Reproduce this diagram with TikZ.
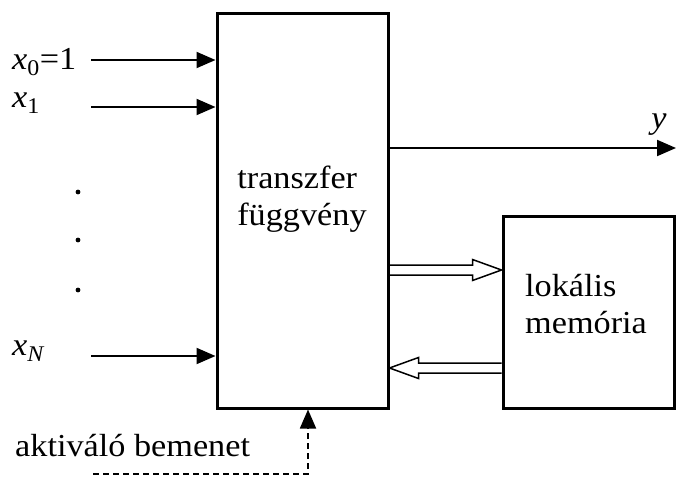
\documentclass[tikz,border=0pt]{standalone}
\usepackage{fontspec}
\setmainfont[FakeStretch=1.07]{Liberation Serif}
\usetikzlibrary{arrows.meta,calc}
% hollow (outline) arrow: #1 start, #2 tip
\newcommand{\uresnyil}[2]{%
  \coordinate (hb) at ($(#2)!29pt!(#1)$);
  \draw[ures] ($(#1)!5pt!90:(#2)$) -- ($(hb)!5pt!90:(#2)$) -- ($(hb)!10.5pt!90:(#2)$)
    -- (#2) -- ($(hb)!10.5pt!-90:(#2)$) -- ($(hb)!5pt!-90:(#2)$) -- ($(#1)!5pt!-90:(#2)$);
}
\tikzset{
  blokk/.style={draw, line width=3pt, inner sep=0pt},
  bemenet/.style={line width=2pt, -{Triangle[length=19pt,width=16pt]}},
  ures/.style={line width=1.5pt, line join=miter},
  szag/.style={line width=1.8pt, dash pattern=on 6pt off 4pt, -{Triangle[length=19pt,width=16pt]}},
  felirat/.style={font=\fontsize{32}{37}\selectfont, align=left, inner sep=0pt},
}

\begin{document}
\begin{tikzpicture}[x=1pt, y=-1pt]
\useasboundingbox (0,0) rectangle (676,477);
% blocks
\node[blokk, minimum width=171pt, minimum height=395pt] (fn) at (302.5,210.5) {};
\node[felirat] (fntext) at (302,199) {transzfer\\függvény};
\node[blokk, minimum width=171pt, minimum height=192pt] (mem) at (588.5,312) {};
\node[felirat] (memtext) at (586,304) {lokális\\memória};
% inputs
\foreach \n/\yy in {0/60, 1/107, N/356} {
  \coordinate (be\n) at (91,\yy);
  \draw[bemenet] (be\n) -- (fn.west |- be\n);
}
\node[felirat, anchor=base west] (lx0) at (12,69) {\textit{x}\textsubscript{0}=1};
\node[felirat, anchor=base west] (lx1) at (12,107) {\textit{x}\textsubscript{1}};
\node[felirat, anchor=base west] (lxN) at (12,355) {\textit{x}\textsubscript{\textit{N}}};
\foreach \yy in {192,240,290} \fill (78,\yy) circle (2.4pt);
% output
\coordinate (kimenet) at (676,148);
\draw[bemenet] (fn.east |- kimenet) -- (kimenet);
\node[felirat] (ylab) at (659,125) {\textit{y}};
% memory links
\coordinate (ki1) at (fn.east |- 0,270);
\coordinate (be1) at (mem.west |- 0,270);
\uresnyil{ki1}{be1}
\coordinate (ki2) at (mem.west |- 0,368);
\coordinate (be2) at (fn.east |- 0,368);
\uresnyil{ki2}{be2}
% enable input
\coordinate (akt) at (93,474);
\coordinate (aktsarok) at (308,474);
\draw[szag] (akt) -- (aktsarok) -- (aktsarok |- fn.south);
\node[felirat, anchor=base west] (aktlab) at (15,456) {aktiváló bemenet};
\end{tikzpicture}
\end{document}
